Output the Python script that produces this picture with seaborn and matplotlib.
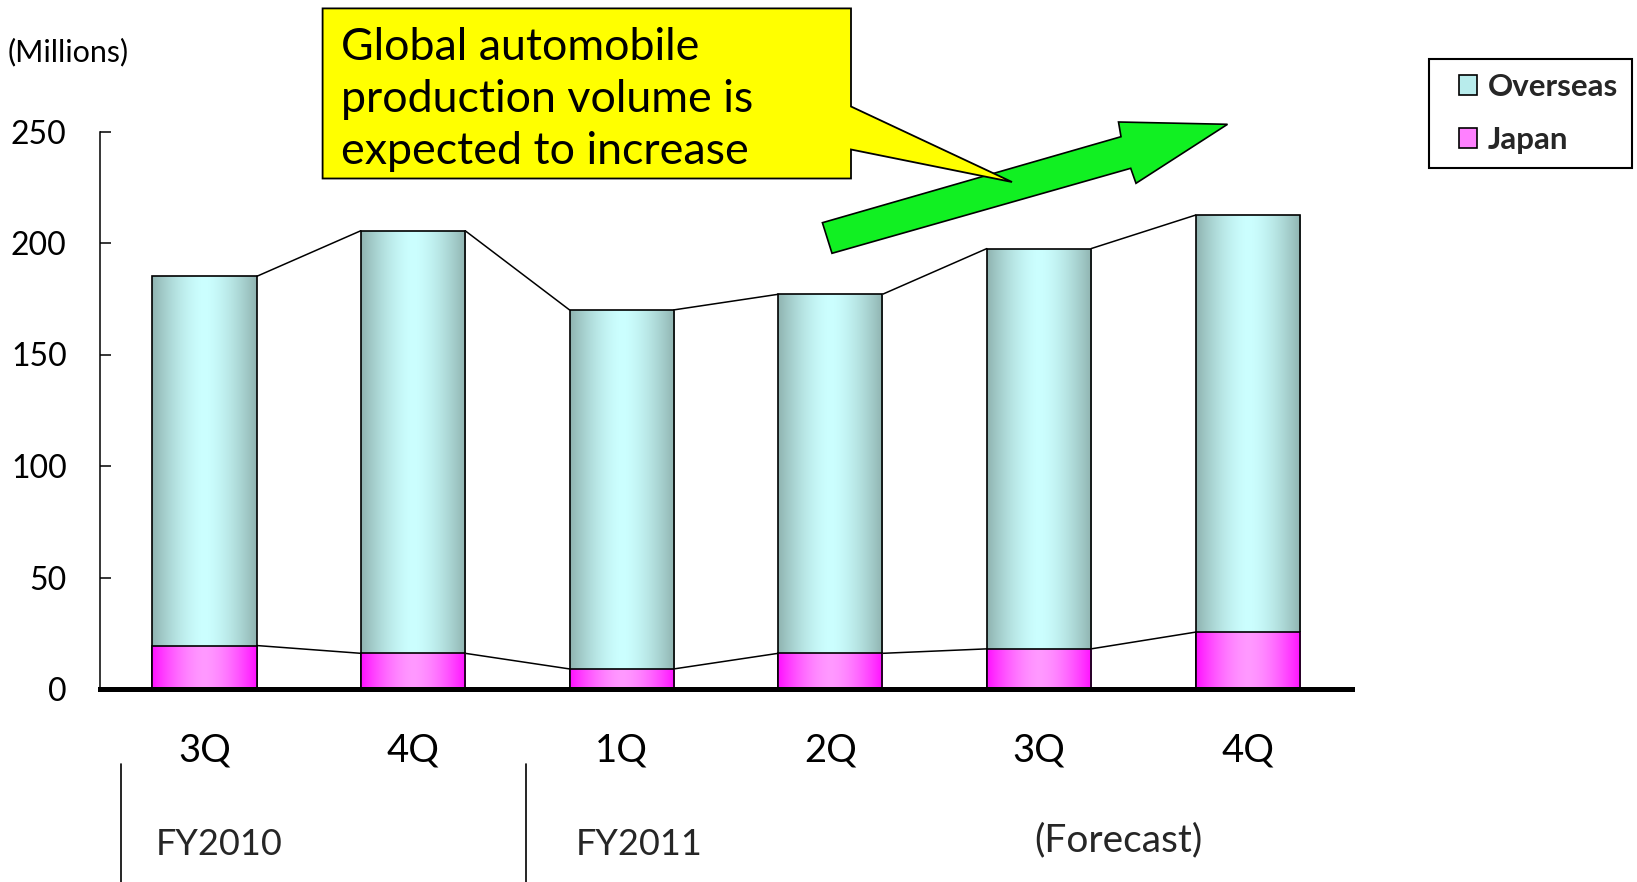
import numpy as np
import pandas as pd
import matplotlib
matplotlib.use("Agg")
import matplotlib.pyplot as plt
import seaborn as sns
from matplotlib.patches import Polygon, Patch, Rectangle
from matplotlib.lines import Line2D
from matplotlib.transforms import Affine2D
from matplotlib.font_manager import FontProperties
from matplotlib.legend_handler import HandlerPatch

# ---- data ----
keys = ["FY2010 3Q", "FY2010 4Q", "FY2011 1Q", "FY2011 2Q", "FY2011 3Q", "FY2011 4Q"]
quarters = ["3Q", "4Q", "1Q", "2Q", "3Q", "4Q"]
japan = [19.5, 16, 9, 16, 18, 25.5]
overseas = [165.5, 189.5, 161, 161, 179.5, 187]
series_names = ["Overseas", "Japan"]
yticks = [0, 50, 100, 150, 200, 250]
fiscal_labels = ["FY2010", "FY2011"]
forecast_label = "(Forecast)"
unit_label = "(Millions)"
callout_lines = ["Global automobile", "production volume is", "expected to increase"]

df = pd.DataFrame({"key": keys, "japan": japan, "overseas": overseas})
df["total"] = df["japan"] + df["overseas"]

# ---- style ----
sns.set_style("white")
plt.rcParams["font.family"] = ["Lato", "DejaVu Sans"]

W, H = 1637, 882
fig = plt.figure(figsize=(W / 100, H / 100), dpi=100)
px = Affine2D().scale(1 / W, -1 / H).translate(0, 1) + fig.transFigure


def fx(x):
    return x / W


def fy(y):
    return 1 - y / H


ax = fig.add_axes([fx(100), fy(689), fx(1352) - fx(100), fy(131.5) - fy(689)])

sns.barplot(data=df, x="key", y="total", order=keys, color="#ccffff", width=0.5,
            edgecolor="black", linewidth=1.2, ax=ax)
sns.barplot(data=df, x="key", y="japan", order=keys, color="#ff80ff", width=0.5,
            edgecolor="black", linewidth=1.2, ax=ax)

n = len(keys)
tot_patches = ax.patches[:n]
jp_patches = ax.patches[n:2 * n]


def gradient(edge, center, npts=256):
    t = np.linspace(0, 1, npts)
    d = np.abs(t - 0.5) / 0.5
    w = d ** 1.6
    edge = np.array(matplotlib.colors.to_rgb(edge))
    center = np.array(matplotlib.colors.to_rgb(center))
    cols = center[None, :] * (1 - w[:, None]) + edge[None, :] * w[:, None]
    return cols[None, :, :]


g_over = gradient("#8fb3b0", "#ccffff")
g_jp = gradient("#ff10ff", "#ff99ff")

for patches, grad, z in [(tot_patches, g_over, 2.0), (jp_patches, g_jp, 2.4)]:
    for p in patches:
        x0, y0 = p.get_x(), p.get_y()
        w, h = p.get_width(), p.get_height()
        im = ax.imshow(grad, extent=(x0, x0 + w, y0, y0 + h), origin="lower",
                       aspect="auto", interpolation="bilinear", zorder=z)
        im.set_clip_path(p)
        p.set_facecolor("none")
        p.set_zorder(z + 0.1)

# connector lines between bar tops
for patches in (tot_patches, jp_patches):
    for a, b in zip(patches[:-1], patches[1:]):
        ax.plot([a.get_x() + a.get_width(), b.get_x()],
                [a.get_y() + a.get_height(), b.get_y() + b.get_height()],
                color="black", lw=1.1, zorder=1.5)

ax.set_xlim(-0.5, n - 0.5)
ax.set_ylim(0, 250)
ax.set_yticks(yticks)
ax.set_yticklabels([str(v) for v in yticks])
ax.set_xticks(range(n))
ax.set_xticklabels(quarters)
ax.set_xlabel("")
ax.set_ylabel("")
for s in ("top", "right"):
    ax.spines[s].set_visible(False)
ax.spines["left"].set_color("black")
ax.spines["left"].set_linewidth(1.1)
ax.spines["bottom"].set_color("black")
ax.spines["bottom"].set_linewidth(3.6)
ax.spines["bottom"].set_zorder(5)
ax.tick_params(axis="y", direction="in", length=8, width=1.1, color="black",
               pad=24, labelsize=23, labelcolor="black", left=True)
ax.tick_params(axis="x", length=0, pad=31, labelsize=27.5, labelcolor="black")
ax.set_facecolor("white")

# unit label
fig.text(fx(8), fy(61), unit_label, fontsize=22, ha="left", va="baseline", color="black")

# fiscal year labels and separators
fig.text(fx(156), fy(855), fiscal_labels[0], fontsize=26, ha="left", va="baseline")
fig.text(fx(576), fy(855), fiscal_labels[1], fontsize=26, ha="left", va="baseline")
fig.text(fx(1118), fy(851), forecast_label, fontsize=28, ha="center", va="baseline")
for xs in (121, 526):
    fig.add_artist(Line2D([xs, xs], [764, 882], transform=px, color="black", lw=1.2))

# green arrow
arrow_pts = [(822.4, 222.7), (1121, 136.7), (1118.5, 122), (1227.5, 124.3),
             (1136, 183.3), (1130.7, 168.3), (832, 253.3)]
fig.add_artist(Polygon(arrow_pts, closed=True, transform=px, facecolor="#11f022",
                       edgecolor="black", lw=1.2, zorder=3))

# callout
callout_pts = [(322.6, 8.4), (851, 8.4), (851, 106.5), (1012, 182),
               (851, 149.5), (851, 178.5), (322.6, 178.5)]
fig.add_artist(Polygon(callout_pts, closed=True, transform=px, facecolor="#ffff00",
                       edgecolor="black", lw=1.3, zorder=4))
for i, line in enumerate(callout_lines):
    t = fig.text(fx(341), fy(60 + 52 * i), line, fontsize=32.2, ha="left",
                 va="baseline", color="black")
    t.set_zorder(5)


# legend with small square markers placed at the right of the handle box
def small_square(legend, orig_handle, xdescent, ydescent, width, height, fontsize):
    sw, sh = 13.5, 14.4
    return Rectangle((-xdescent + width - sw, -ydescent + (height - sh) / 2), sw, sh)


handles = [Patch(facecolor="#b8ecec", edgecolor="black", lw=1.2),
           Patch(facecolor="#ff80ff", edgecolor="black", lw=1.2)]
leg = fig.legend(handles, series_names, loc="upper left",
                 bbox_to_anchor=(fx(1429), fy(58.5)), bbox_transform=fig.transFigure,
                 frameon=True, fancybox=False, framealpha=1, edgecolor="black",
                 prop=FontProperties(family="Lato", weight="bold", size=22.5),
                 handlelength=1.1, handleheight=0.7, handletextpad=0.34,
                 labelspacing=0.82, borderpad=0.45, borderaxespad=0,
                 handler_map={Patch: HandlerPatch(patch_func=small_square)})
leg.get_frame().set_linewidth(1.5)

fig.savefig("out.png", dpi=100, facecolor="white")
